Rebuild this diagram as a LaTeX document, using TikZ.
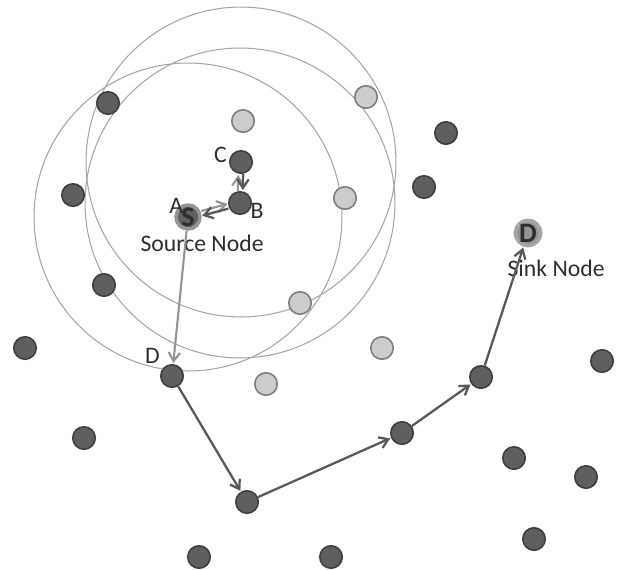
\documentclass[tikz,border=0pt]{standalone}
\usepackage{fontspec}
\setmainfont{Carlito}
\usepackage{tikz}
\usetikzlibrary{arrows.meta, positioning, calc}
\definecolor{NodeDark}{RGB}{95, 95, 95}
\definecolor{NodeDarkEdge}{RGB}{62, 62, 62}
\definecolor{NodeLight}{RGB}{204, 204, 204}
\definecolor{NodeLightEdge}{RGB}{125, 125, 125}
\definecolor{RangeGray}{RGB}{165, 165, 165}
\definecolor{LinkLight}{RGB}{148, 148, 148}
\definecolor{LinkDark}{RGB}{88, 88, 88}
\definecolor{LabelGray}{RGB}{45, 45, 45}

\begin{document}
\begin{tikzpicture}[
    x=0.02cm, y=-0.02cm,
    font=\fontsize{13.5}{15}\selectfont,
    darknode/.style={circle, draw=NodeDarkEdge, fill=NodeDark, line width=0.9pt, minimum size=0.45cm, inner sep=0pt},
    lightnode/.style={circle, draw=NodeLightEdge, fill=NodeLight, line width=0.9pt, minimum size=0.45cm, inner sep=0pt},
    srcnode/.style={circle, draw=LinkLight, fill=NodeDark, line width=2pt, minimum size=0.48cm, inner sep=0pt, text=LabelGray, font=\fontsize{16}{16}\selectfont\bfseries},
    sinknode/.style={circle, draw=RangeGray, fill=LinkLight, line width=2pt, minimum size=0.48cm, inner sep=0pt, text=LabelGray, font=\fontsize{16}{16}\selectfont\bfseries},
    rangecircle/.style={draw=RangeGray, line width=0.6pt},
    lbl/.style={text=LabelGray, inner sep=1pt},
    lightarr/.style={-{Straight Barb[length=5pt, width=6.5pt]}, line width=1.2pt, color=LinkLight, shorten >=0.5pt},
    darkarr/.style={-{Straight Barb[length=5pt, width=6.5pt]}, line width=1.3pt, color=LinkDark, shorten >=0.5pt}
]
    \useasboundingbox (0,0) rectangle (625,569);

    % Transmission ranges
    \coordinate (rS) at (188,217);
    \coordinate (rB) at (240,203);
    \coordinate (rC) at (241,162);
    \draw[rangecircle] (rC) circle[radius=3.1cm];
    \draw[rangecircle] (rB) circle[radius=3.1cm];
    \draw[rangecircle] (rS) circle[radius=3.08cm];

    % Dark nodes
    \node[darknode] (n1) at (108,103) {};
    \node[darknode] (n2) at (73,195) {};
    \node[darknode] (n3) at (104,285) {};
    \node[darknode] (n4) at (25,348) {};
    \node[darknode] (n5) at (446,133) {};
    \node[darknode] (n6) at (424,187) {};
    \node[darknode] (n7) at (84,438) {};
    \node[darknode] (n8) at (602,361) {};
    \node[darknode] (n9) at (514,458) {};
    \node[darknode] (n10) at (586,477) {};
    \node[darknode] (n11) at (534,539) {};
    \node[darknode] (n12) at (199,557) {};
    \node[darknode] (n13) at (331,557) {};

    % Light nodes
    \node[lightnode] (m1) at (243,121) {};
    \node[lightnode] (m2) at (366,97) {};
    \node[lightnode] (m3) at (345,198) {};
    \node[lightnode] (m4) at (300,303) {};
    \node[lightnode] (m5) at (382,348) {};
    \node[lightnode] (m6) at (266,384) {};

    % Route nodes
    \node[darknode] (C) at (rC) {};
    \node[darknode] (B) at (rB) {};
    \node[darknode] (D) at (172,376) {};
    \node[darknode] (r1) at (247,502) {};
    \node[darknode] (r2) at (402,433) {};
    \node[darknode] (r3) at (481,377) {};
    \node[srcnode] (S) at (rS) {S};
    \node[sinknode] (sink) at (528,233) {D};

    % Labels
    \node[lbl, above left=-5pt and -4pt of S] (labA) {A};
    \node[lbl, below right=-6pt and 0pt of B] (labB) {B};
    \node[lbl, left=0pt of C, yshift=4pt] (labC) {C};
    \node[lbl, above left=1pt and 1pt of D] (labD) {D};
    \node[lbl, below=1pt of S, xshift=8pt] (labS) {Source Node};
    \node[lbl, below=6pt of sink, xshift=16pt] (labT) {Sink Node};

    % Route discovery
    \draw[lightarr, transform canvas={yshift=1.4pt}] (S) -- (B);
    \draw[darkarr, transform canvas={yshift=-1.4pt}] (B) -- (S);
    \draw[lightarr, transform canvas={xshift=-1.4pt}] (B) -- (C);
    \draw[darkarr, transform canvas={xshift=1.4pt}] (C) -- (B);
    \draw[lightarr] (S) -- (D);

    % Data path
    \draw[darkarr] (D) -- (r1);
    \draw[darkarr] (r1) -- (r2);
    \draw[darkarr] (r2) -- (r3);
    \draw[darkarr] (r3) -- (sink);

\end{tikzpicture}
\end{document}
